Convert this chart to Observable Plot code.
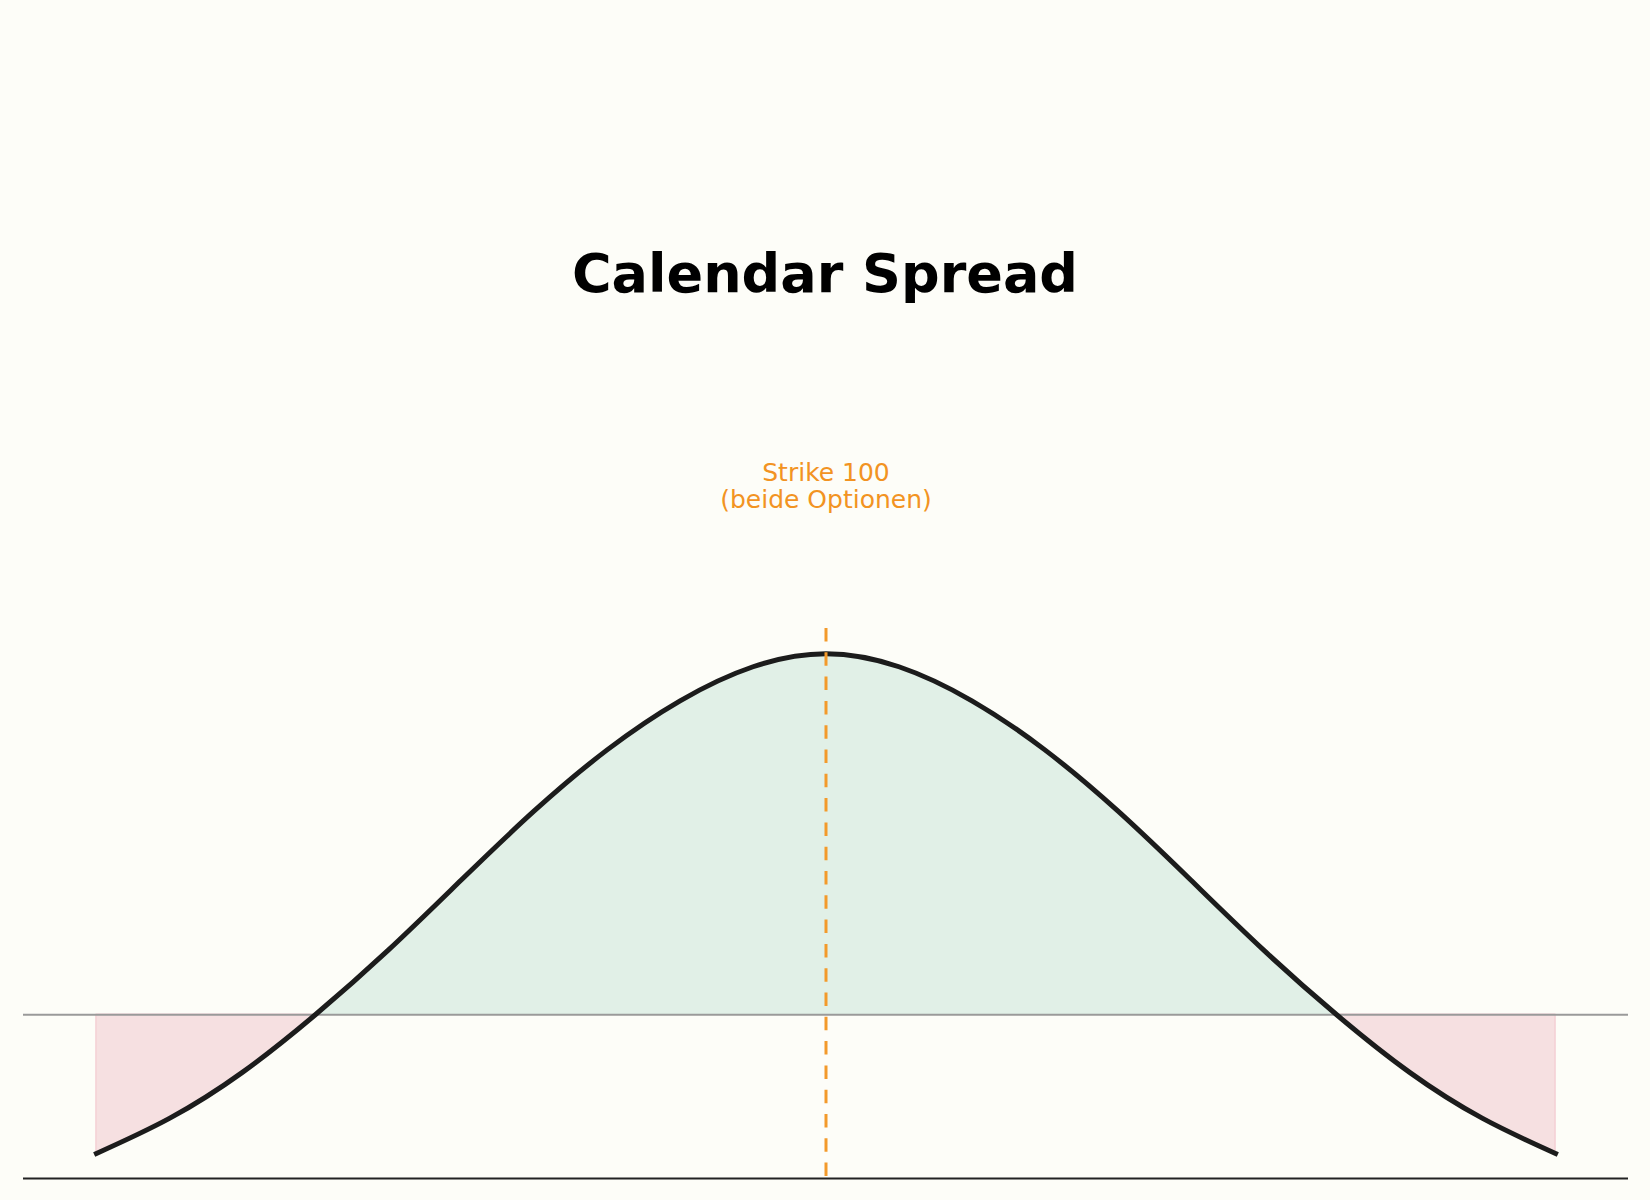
<!DOCTYPE html>
<html>
<head>
<meta charset="utf-8">
<script src="https://cdn.jsdelivr.net/npm/d3@7"></script>
<script src="https://cdn.jsdelivr.net/npm/@observablehq/plot@0.6"></script>
<style>
  html, body { margin: 0; padding: 0; background: #fdfdf8; }
  #wrap { position: relative; width: 1650px; height: 1200px; background: #fdfdf8; font-family: "DejaVu Sans", sans-serif; }
  #title { position: absolute; left: 0; top: 247px; width: 1650px; text-align: center; font-size: 54px; line-height: 54px; font-weight: bold; color: #000; }
  #chart { position: absolute; left: 0; top: 330px; }
</style>
</head>
<body>
<div id="wrap">
  <div id="title">Calendar Spread</div>
  <div id="chart"></div>
</div>
<script>
// Underlying price at front-month expiry
const prices = [80, 82, 84, 86, 88, 90, 92, 94, 96, 98, 100, 102, 104, 106, 108, 110, 112, 114, 116, 118, 120];
// Profit / loss of the calendar spread
const pnl = [-1.385, -1.035, -0.575, 0, 0.645, 1.345, 2.035, 2.645, 3.135, 3.475, 3.605, 3.475, 3.135, 2.645, 2.035, 1.345, 0.645, 0, -0.575, -1.035, -1.385];
const strike = [100];
const strikeLabel = ["Strike 100\n(beide Optionen)"];
const xDomain = [78, 122];
const yDomain = [-1.635, 3.857];

const data = prices.map((p, i) => ({price: p, pnl: pnl[i], side: p < strike[0] ? "L" : "R"}));

const chart = Plot.plot({
  width: 1650,
  height: 870,
  marginTop: 298,
  marginBottom: 22,
  marginLeft: 23,
  marginRight: 22,
  style: {background: "transparent", fontFamily: "DejaVu Sans, sans-serif"},
  x: {domain: xDomain, axis: null},
  y: {domain: yDomain, axis: null},
  marks: [
    Plot.areaY(data, {filter: d => d.pnl >= 0, x: "price", y1: 0, y2: "pnl", fill: "#e1f0e7", curve: "natural"}),
    Plot.areaY(data, {filter: d => d.pnl <= 0, x: "price", y1: 0, y2: "pnl", z: "side", fill: "#f6e0e1", stroke: "#f4d0d5", strokeWidth: 1.5, curve: "natural"}),
    Plot.ruleY([0], {stroke: "#9a9a9a", strokeWidth: 2}),
    Plot.line(data, {x: "price", y: "pnl", stroke: "#1c1c1c", strokeWidth: 5, strokeLinecap: "square", curve: "natural"}),
    Plot.ruleX(strike, {stroke: "#f39a2b", strokeWidth: 3, strokeDasharray: "13.5,10.8"}),
    Plot.text(strike, {x: d => d, text: (d, i) => strikeLabel[i], frameAnchor: "top", dy: -143, lineAnchor: "middle", lineHeight: 1.1, fontSize: 25, fill: "#f29322"}),
    Plot.ruleY([yDomain[0]], {stroke: "#222222", strokeWidth: 2})
  ]
});
document.getElementById("chart").appendChild(chart);
</script>
</body>
</html>
